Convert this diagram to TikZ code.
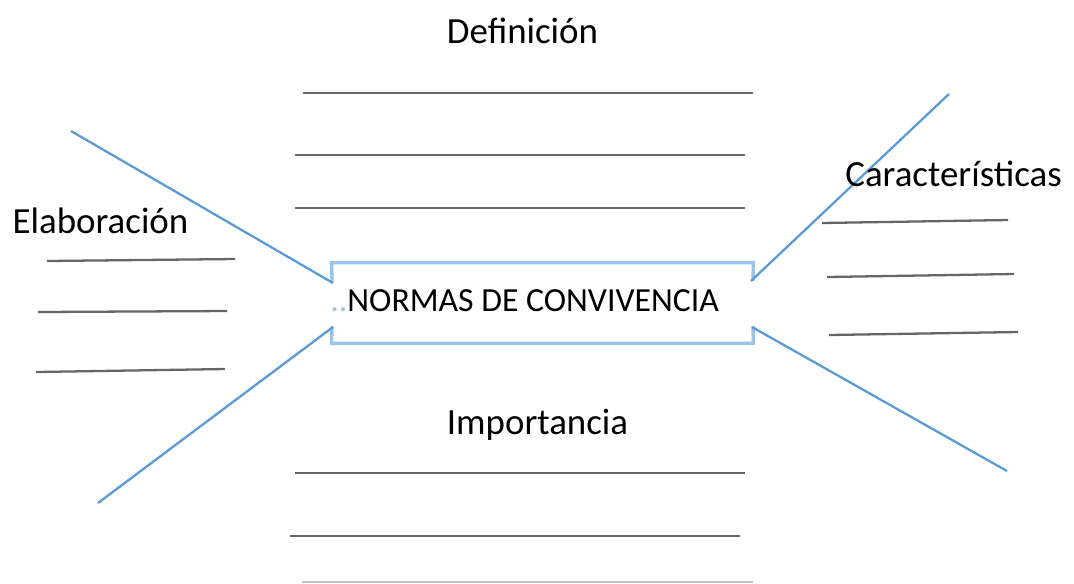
\documentclass[tikz,border=0pt]{standalone}
\usepackage{fontspec}
\setmainfont{Carlito}
\usepackage{tikz}
\usetikzlibrary{positioning}

\definecolor{branchblue}{HTML}{5B9BD5}
\definecolor{boxblue}{HTML}{9DC3E6}
\definecolor{blankgray}{HTML}{666666}

\begin{document}
\begin{tikzpicture}[x=0.02cm, y=-0.02cm,
  title node/.style={anchor=base, inner sep=0pt, font=\fontsize{21}{25}\selectfont},
  blank line/.style={draw=blankgray, line width=1.3pt},
  branch line/.style={draw=branchblue, line width=1.3pt},
  box line/.style={draw=boxblue, line width=1.9pt}]

\useasboundingbox (0,0) rectangle (1074,583);

% central box
\node[minimum width=8.42cm, minimum height=1.6cm, inner sep=0pt] (box) at (542.5,303) {};
\node[anchor=base west, inner sep=0pt, font=\fontsize{19.2}{22}\selectfont] (tema) at (330,311)
  {{\color{boxblue}..}NORMAS DE CONVIVENCIA};
\draw[box line] (332,283) -- (box.north west) -- (box.north east) -- (753,281);
\draw[box line] (332,326) -- (box.south west) -- (box.south east) -- (753,326);

% branches
\coordinate (ul) at (71,131);
\coordinate (ll) at (98,503);
\coordinate (ur) at (949,94);
\coordinate (lr) at (1007,471);
\path[branch line]
  (ul) edge (333,283)
  (ll) edge (333,327)
  (ur) edge (751,281)
  (lr) edge (752,327);

% titles
\node[title node] (def) at (522.5,43) {Definición};
\node[title node] (ela) at (100.5,233) {Elaboración};
\node[title node] (car) at (953.5,186) {Características};
\node[title node] (imp) at (537.5,434) {Importancia};

% blank lines
\draw[blank line] (303,93) -- (753,93);
\draw[blank line] (295,155) -- (745,155);
\draw[blank line] (295,208) -- (745,208);

\draw[blank line] (47,261) -- (235,259);
\draw[blank line] (38,312) -- (227,311);
\draw[blank line] (36,372) -- (225,369);

\draw[blank line] (822,223) -- (1008,220);
\draw[blank line] (827,277) -- (1014,274);
\draw[blank line] (829,335) -- (1018,332);

\draw[blank line] (295,473) -- (745,473);
\draw[blank line] (290,536) -- (740,536);
\draw[blank line, draw=blankgray!40] (302,582) -- (753,582);

\end{tikzpicture}
\end{document}
